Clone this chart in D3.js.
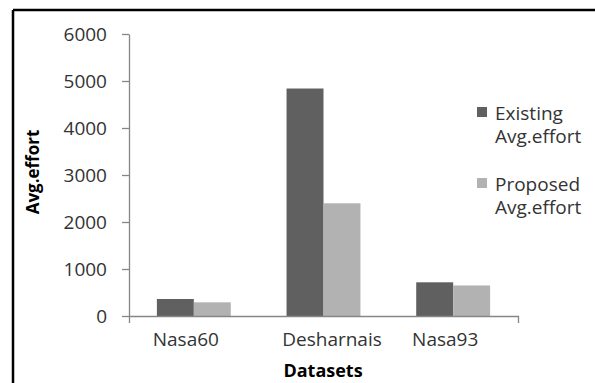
<!DOCTYPE html>
<html>
<head>
<meta charset="utf-8">
<script src="https://cdn.jsdelivr.net/npm/d3@7"></script>
<style>
  html, body { margin: 0; padding: 0; background: #fff; }
  svg { display: block; }
  text { font-family: "Open Sans", sans-serif; }
</style>
</head>
<body>
<svg id="chart" width="595" height="383"></svg>
<script>
const categories = ["Nasa60", "Desharnais", "Nasa93"];
const seriesNames = ["Existing\nAvg.effort", "Proposed\nAvg.effort"];
const existing = [362, 4840, 717];
const proposed = [291, 2398, 650];
const yTicks = [0, 1000, 2000, 3000, 4000, 5000, 6000];
const colors = ["#606060", "#b2b2b2"];
const labelShift = [-8, 8.5, -8];

const series = [existing, proposed];
const svg = d3.select("#chart");

// frame
svg.append("line").attr("x1", 13).attr("x2", 595).attr("y1", 10).attr("y2", 10)
  .attr("stroke", "#000").attr("stroke-width", 2.5);
svg.append("line").attr("x1", 13).attr("x2", 13).attr("y1", 10).attr("y2", 383)
  .attr("stroke", "#000").attr("stroke-width", 2.5);

const x0 = d3.scaleBand().domain(categories).range([129, 518])
  .paddingInner(0.43).paddingOuter(0.215);
const x1 = d3.scaleBand().domain(d3.range(series.length)).range([0, x0.bandwidth()]);
const y = d3.scaleLinear().domain([0, 6000]).range([316, 34]);

// bars
const g = svg.append("g");
categories.forEach((c, i) => {
  series.forEach((s, j) => {
    g.append("rect")
      .attr("x", x0(c) + x1(j))
      .attr("y", y(s[i]))
      .attr("width", x1.bandwidth())
      .attr("height", y(0) - y(s[i]))
      .attr("fill", colors[j]);
  });
});

// y axis
const yAxis = svg.append("g").attr("transform", "translate(129,0)")
  .call(d3.axisLeft(y).tickValues(yTicks).tickFormat(d3.format("d"))
    .tickSize(7).tickSizeOuter(0).tickPadding(15));
yAxis.selectAll("path, line").attr("stroke", "#868686").attr("stroke-width", 1.3);
yAxis.selectAll("text").attr("font-size", 19).attr("fill", "#333")
  .attr("font-family", "'Open Sans', sans-serif");

// x axis
const xAxis = svg.append("g").attr("transform", "translate(0,316)")
  .call(d3.axisBottom(x0).tickSize(0).tickSizeOuter(7).tickPadding(17));
xAxis.selectAll("path, line").attr("stroke", "#868686").attr("stroke-width", 1.3);
xAxis.selectAll("text").attr("font-size", 19).attr("fill", "#333")
  .attr("font-family", "'Open Sans', sans-serif")
  .attr("dx", (d, i) => labelShift[i]);

// axis titles
svg.append("text").attr("x", 323).attr("y", 377).attr("text-anchor", "middle")
  .attr("font-size", 18).attr("font-weight", "bold").attr("fill", "#000")
  .text("Datasets");
svg.append("text").attr("transform", "translate(39,172) rotate(-90)")
  .attr("text-anchor", "middle").attr("font-size", 17).attr("font-weight", "bold")
  .attr("fill", "#000").text("Avg.effort");

// legend
const legendTop = [107, 178];
seriesNames.forEach((name, j) => {
  svg.append("rect").attr("x", 477).attr("y", legendTop[j])
    .attr("width", 10).attr("height", 10).attr("fill", colors[j]);
  const t = svg.append("text").attr("x", 495).attr("y", legendTop[j] + 12.5)
    .attr("font-size", 19).attr("fill", "#333");
  name.split("\n").forEach((line, k) => {
    t.append("tspan").attr("x", 495).attr("dy", k === 0 ? 0 : 23.5).text(line);
  });
});
</script>
</body>
</html>
